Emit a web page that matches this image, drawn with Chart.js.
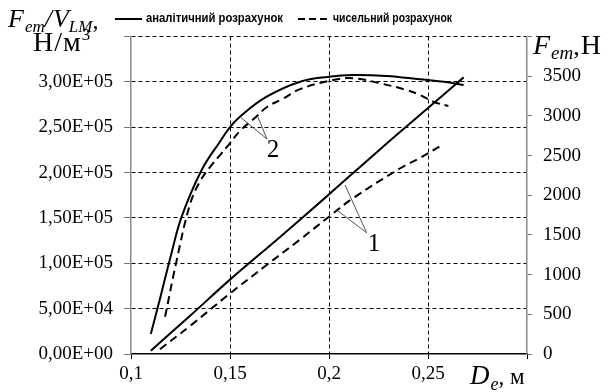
<!DOCTYPE html>
<html><head><meta charset="utf-8">
<script src="https://cdn.jsdelivr.net/npm/chart.js@4"></script>
<style>html,body{margin:0;padding:0;background:#fff}#wrap{width:612px;height:392px;position:relative}</style>
</head><body><div id="wrap"><canvas id="c"></canvas></div>
<script>
// ---- data (D_e in m) ----
const dFVAnalytic = [0.110,0.115,0.120,0.1256,0.1357,0.1449,0.150,0.155,0.1685,0.1854,0.200,0.2123,0.229,0.246,0.258,0.268];
const fvAnalytic  = [22000,64000,107300,151400,202800,234000,250000,261600,283600,300200,305700,307600,306500,302800,300000,296500];
const dFVNumeric  = [0.1172,0.1231,0.1298,0.1348,0.1399,0.1449,0.1491,0.1551,0.1635,0.1685,0.1769,0.1854,0.2022,0.2123,0.2258,0.2392,0.246,0.2527,0.2603];
const fvNumeric   = [41000,103600,165000,190000,206000,219000,230000,246000,262000,272000,281500,292000,302100,303900,298400,291000,285500,278100,273400];
const dFAnalytic  = [0.110,0.130,0.150,0.175,0.200,0.225,0.250,0.268];
const fAnalytic   = [42,485,937,1468,2011,2562,3099,3485];
const dFNumeric   = [0.1146,0.130,0.149,0.1685,0.185,0.200,0.212,0.236,0.246,0.257];
const fNumeric    = [59,357,743,1121,1435,1730,1960,2340,2470,2630];

const xTickValues = [0.1,0.15,0.2,0.25,0.3];
const xTickLabels = ['0,1','0,15','0,2','0,25',''];
const leftTickLabels = ['0,00E+00','5,00E+04','1,00E+05','1,50E+05','2,00E+05','2,50E+05','3,00E+05',''];
const rightTickLabels = ['0','500','1000','1500','2000','2500','3000','3500',''];
const legendLabels = ['аналітичний розрахунок','чисельний розрахунок'];

// annotation anchors in data units
const label2 = {text:'2', x:0.1717, y:224900};
const leader2From = [[0.1551,261300],[0.1641,261300]];
const leader2To = [0.1687,237000];
const label1 = {text:'1', x:0.2227, y:1386};
const leader1From = [[0.2081,2129],[0.2039,1814]];
const leader1To = [0.219,1528];

const pts = (xs, ys) => xs.map((x,i)=>({x, y:ys[i]}));
const SERIF = '"Liberation Serif", serif';

function drawRuns(ctx, x, base, runs){
  for(const r of runs){
    ctx.font = (r.it?'italic ':'') + r.s + 'px ' + SERIF;
    ctx.fillText(r.t, x, base + (r.dy||0));
    x += ctx.measureText(r.t).width + (r.gap||0);
  }
}

const overlay = {
  id:'overlay',
  afterDraw(chart){
    const ctx = chart.ctx; ctx.save();
    ctx.fillStyle = '#000'; ctx.strokeStyle = '#000';
    // legend
    ctx.lineWidth = 2;
    ctx.beginPath(); ctx.moveTo(115,19); ctx.lineTo(142,19); ctx.stroke();
    ctx.setLineDash([7,4]);
    ctx.beginPath(); ctx.moveTo(298,19); ctx.lineTo(331,19); ctx.stroke();
    ctx.setLineDash([]);
    ctx.font = 'bold 12px "Liberation Sans Narrow", "Liberation Sans", sans-serif';
    ctx.textBaseline = 'middle'; ctx.textAlign = 'left';
    ctx.fillText(legendLabels[0], 146, 19, 137);
    ctx.fillText(legendLabels[1], 333, 19, 119);
    // titles
    ctx.textBaseline = 'alphabetic';
    drawRuns(ctx, 8, 27, [{t:'F',it:1,s:26,gap:1},{t:'em',it:1,s:17,dy:5},{t:'/',it:1,s:26,gap:1},{t:'V',it:1,s:26},{t:'LM',it:1,s:17,dy:5},{t:',',s:24,dy:1}]);
    drawRuns(ctx, 33, 51, [{t:'Н',s:28,gap:1},{t:'/',s:28,gap:1},{t:'м',s:28,gap:1},{t:'3',s:17,dy:-11}]);
    drawRuns(ctx, 533, 54, [{t:'F',it:1,s:28,gap:1},{t:'em',it:1,s:19,dy:5},{t:',',s:26,dy:1,gap:1},{t:'Н',s:28}]);
    drawRuns(ctx, 470, 384, [{t:'D',it:1,s:27,gap:1},{t:'e',it:1,s:18,dy:6},{t:', ',s:23},{t:'м',s:23}]);
    // annotations
    const xs = chart.scales.x, yl = chart.scales.y, yr = chart.scales.y1;
    ctx.strokeStyle = '#555'; ctx.lineWidth = 1;
    const seg = (ys, a, b) => { ctx.beginPath(); ctx.moveTo(xs.getPixelForValue(a[0]), ys.getPixelForValue(a[1])); ctx.lineTo(xs.getPixelForValue(b[0]), ys.getPixelForValue(b[1])); ctx.stroke(); };
    leader2From.forEach(p => seg(yl, p, leader2To));
    leader1From.forEach(p => seg(yr, p, leader1To));
    ctx.font = '25px ' + SERIF; ctx.fillStyle = '#000';
    ctx.textAlign = 'center'; ctx.textBaseline = 'middle';
    ctx.fillText(label2.text, xs.getPixelForValue(label2.x), yl.getPixelForValue(label2.y));
    ctx.fillText(label1.text, xs.getPixelForValue(label1.x), yr.getPixelForValue(label1.y));
    ctx.restore();
  }
};

const base = {borderColor:'#000', borderWidth:2, pointRadius:0, fill:false, tension:0.4};
new Chart(document.getElementById('c'), {
  type:'line',
  data:{datasets:[
    {...base, label:legendLabels[0]+' Fem/V', data:pts(dFVAnalytic, fvAnalytic), yAxisID:'y'},
    {...base, label:legendLabels[1]+' Fem/V', data:pts(dFVNumeric, fvNumeric), yAxisID:'y', borderDash:[8,5]},
    {...base, label:legendLabels[0]+' Fem', data:pts(dFAnalytic, fAnalytic), yAxisID:'y1'},
    {...base, label:legendLabels[1]+' Fem', data:pts(dFNumeric, fNumeric), yAxisID:'y1', borderDash:[8,5]}
  ]},
  options:{
    responsive:true, maintainAspectRatio:false, animation:false,
    layout:{padding:{top:36.5,left:0,right:0,bottom:0}},
    plugins:{legend:{display:false}, tooltip:{enabled:false}},
    scales:{
      x:{type:'linear', min:0.1, max:0.3,
        afterBuildTicks:s=>{s.ticks = xTickValues.map(v=>({value:v}));},
        afterFit:s=>{s.height = 38;},
        ticks:{font:{family:SERIF,size:19}, color:'#000', padding:4, maxRotation:0, autoSkip:false,
          callback:(v,i)=>xTickLabels[i]},
        grid:{color:c=>(c.index===0||c.index===4)?'rgba(0,0,0,0)':'#000', tickColor:'#000', tickLength:5, lineWidth:1},
        border:{color:'#000', width:1.5, dash:[4,3]}
      },
      y:{type:'linear', position:'left', min:0, max:350000,
        afterBuildTicks:s=>{s.ticks = leftTickLabels.map((t,i)=>({value:i*50000}));},
        afterFit:s=>{s.width = 131;},
        ticks:{font:{family:SERIF,size:19}, color:'#000', padding:11, autoSkip:false,
          callback:(v,i)=>leftTickLabels[i]},
        grid:{color:c=>(c.index===0)?'rgba(0,0,0,0)':'#000', tickColor:'#777', tickLength:7, lineWidth:1},
        border:{color:'#888', width:1.5, dash:[4,3]}
      },
      y1:{type:'linear', position:'right', min:0, max:4000,
        afterBuildTicks:s=>{s.ticks = rightTickLabels.map((t,i)=>({value:i*500}));},
        afterFit:s=>{s.width = 85;},
        ticks:{font:{family:SERIF,size:19}, color:'#000', padding:11, autoSkip:false,
          callback:(v,i)=>rightTickLabels[i]},
        grid:{drawOnChartArea:false, color:'#777', tickLength:5, lineWidth:1},
        border:{color:'#888', width:1.5}
      }
    }
  },
  plugins:[overlay]
});
</script>
</body></html>
